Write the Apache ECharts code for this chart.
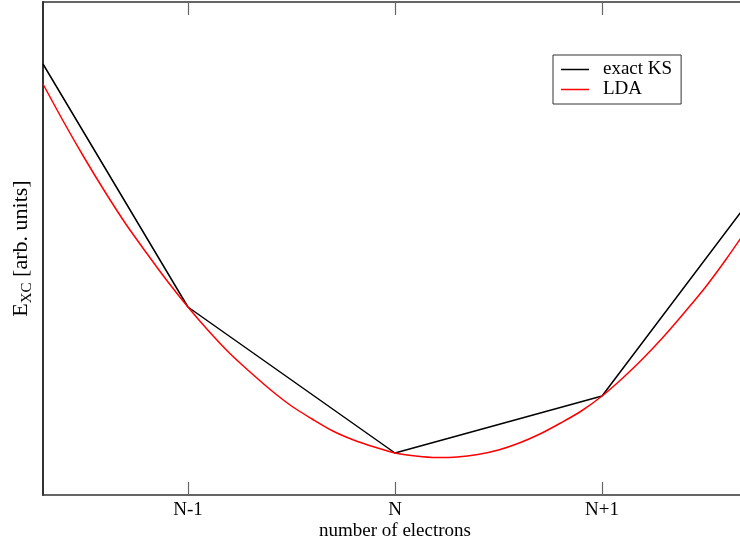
<!DOCTYPE html>
<html>
<head>
<meta charset="utf-8">
<script src="https://cdn.jsdelivr.net/npm/echarts@6/dist/echarts.min.js"></script>
<style>html,body{margin:0;padding:0;background:#fff}#c{width:740px;height:542px}</style>
</head>
<body>
<div id="c"></div>
<script>
const tickValues = [-1, 0, 1];
const tickLabels = ['N-1', 'N', 'N+1'];
const exactX = [-1.7, -1, 0, 1, 1.7];
const exactY = [431, 188, 42, 99, 291];
const ldaX = [-1.7, -1.6, -1.5, -1.4, -1.3, -1.2, -1.1, -1.0, -0.9, -0.8, -0.7, -0.6, -0.5, -0.4, -0.3, -0.2, -0.1,
              0, 0.1, 0.2, 0.3, 0.4, 0.5, 0.6, 0.7, 0.8, 0.9, 1.0, 1.1, 1.2, 1.3, 1.4, 1.5, 1.6, 1.7];
const ldaY = [411, 373, 337, 303, 271, 242, 214, 188, 164, 142, 123, 105, 89, 76, 64, 55, 48,
              42, 39, 37.5, 38, 40.5, 45, 52, 61, 72, 84, 99, 117, 137, 159, 183, 208, 236, 266];

const font = 'Liberation Serif';
const chart = echarts.init(document.getElementById('c'));
const labelMap = {};
tickValues.forEach((v, i) => labelMap[v] = tickLabels[i]);
const axLine = {show: true, onZero: false, lineStyle: {color: '#333', width: 1.5}};
const tick = {show: true, inside: true, length: 13, customValues: tickValues, lineStyle: {color: '#666', width: 1.2}};

chart.setOption({
  animation: false,
  backgroundColor: '#fff',
  grid: {left: 43, top: 2, bottom: 47, right: -7, containLabel: false, outerBoundsMode: 'none'},
  legend: {
    orient: 'vertical', left: 553, top: 55,
    padding: [5, 9, 5, 8], itemGap: 1, itemWidth: 28, itemHeight: 14,
    borderColor: '#333', borderWidth: 1, backgroundColor: '#fff',
    textStyle: {fontFamily: font, fontSize: 19, color: '#000', padding: [0, 0, 0, 9]},
    data: [{name: 'exact KS', icon: 'path://M0,0L28,0L28,1.5L0,1.5Z'}, {name: 'LDA', icon: 'path://M0,0L28,0L28,1.5L0,1.5Z'}]
  },
  xAxis: [{
    type: 'value', min: -1.7, max: 1.7, position: 'bottom',
    name: 'number of electrons', nameLocation: 'middle', nameGap: 27, nameMoveOverlap: false,
    nameTextStyle: {fontFamily: font, fontSize: 19, color: '#000'},
    axisLine: axLine, axisTick: tick, splitLine: {show: false},
    axisLabel: {customValues: tickValues, formatter: v => labelMap[v] || '', margin: 6,
      fontFamily: font, fontSize: 19, color: '#000'}
  }, {
    type: 'value', min: -1.7, max: 1.7, position: 'top',
    axisLine: axLine, axisTick: tick, splitLine: {show: false}, axisLabel: {show: false}
  }],
  yAxis: {
    type: 'value', min: 0, max: 493,
    axisLine: {show: true, onZero: false, lineStyle: {color: '#333', width: 2}},
    axisTick: {show: false}, axisLabel: {show: false}, splitLine: {show: false},
    name: '{e|E}{s|XC}{n| [arb. units]}', nameLocation: 'middle', nameGap: 8, nameRotate: 90,
    nameTextStyle: {
      fontFamily: font, color: '#000',
      rich: {
        e: {fontFamily: font, fontSize: 22, color: '#000', lineHeight: 28, verticalAlign: 'middle'},
        s: {fontFamily: font, fontSize: 15, color: '#000', lineHeight: 28, verticalAlign: 'bottom', padding: [8, 0, 0, 0]},
        n: {fontFamily: font, fontSize: 22, color: '#000', lineHeight: 28, verticalAlign: 'middle'}
      }
    }
  },
  series: [{
    name: 'exact KS', type: 'line', symbol: 'none', clip: true,
    data: exactX.map((x, i) => [x, exactY[i]]),
    lineStyle: {color: '#000', width: 1.5}, itemStyle: {color: '#000'}
  }, {
    name: 'LDA', type: 'line', symbol: 'none', smooth: 0.3, clip: true,
    data: ldaX.map((x, i) => [x, ldaY[i]]),
    lineStyle: {color: '#ff0000', width: 1.5}, itemStyle: {color: '#ff0000'}
  }]
});
</script>
</body>
</html>
